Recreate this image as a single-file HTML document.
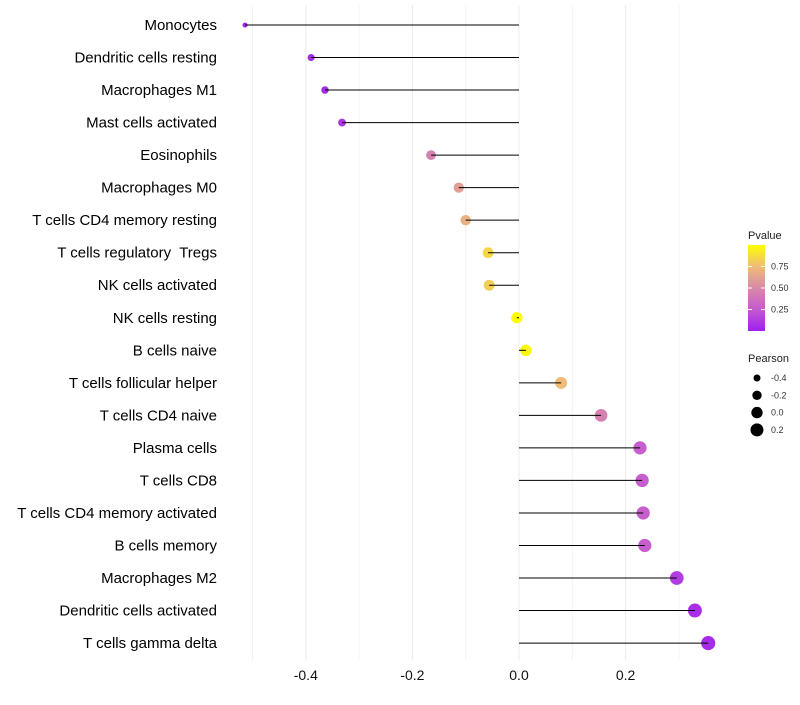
<!DOCTYPE html>
<html><head><meta charset="utf-8"><style>
body{margin:0;background:#fff;font-family:"Liberation Sans",sans-serif;}
svg text{font-family:"Liberation Sans",sans-serif;white-space:pre;}
</style></head><body>
<svg id="chart" width="800" height="700">
<defs><linearGradient id="pg" x1="0" y1="1" x2="0" y2="0">
<stop offset="0" stop-color="#a020f0"/><stop offset="0.25" stop-color="#c45ad0"/><stop offset="0.5" stop-color="#d98aa8"/><stop offset="0.75" stop-color="#eebb78"/><stop offset="1" stop-color="#ffff00"/></linearGradient></defs>
<g id="grid"></g><g id="dots"></g><g id="marks"></g><g id="labels"></g><g id="legend"></g>
</svg>
<script>
const categories=["Monocytes","Dendritic cells resting","Macrophages M1","Mast cells activated","Eosinophils","Macrophages M0","T cells CD4 memory resting","T cells regulatory  Tregs","NK cells activated","NK cells resting","B cells naive","T cells follicular helper","T cells CD4 naive","Plasma cells","T cells CD8","T cells CD4 memory activated","B cells memory","Macrophages M2","Dendritic cells activated","T cells gamma delta"];
const pearson=[-0.514,-0.39,-0.364,-0.332,-0.165,-0.113,-0.10,-0.058,-0.056,-0.004,0.013,0.079,0.154,0.227,0.231,0.233,0.236,0.296,0.330,0.355];
const pvalue=[0.03,0.05,0.05,0.1,0.45,0.6,0.7,0.85,0.82,0.99,0.97,0.75,0.45,0.27,0.27,0.27,0.27,0.12,0.06,0.05];
const xTicks=[-0.4,-0.2,0.0,0.2];
const minorTicks=[-0.5,-0.3,-0.1,0.1,0.3];
const pTicks=[0.25,0.5,0.75];
const sizeTicks=[-0.4,-0.2,0.0,0.2];
const NS="http://www.w3.org/2000/svg";
const x=v=>519+v*533;
const y=i=>25+i*32.53;
const r=v=>Math.sqrt(Math.max(4,32.25+50*v));
const stops=[[0,[160,32,240]],[0.25,[196,90,208]],[0.5,[217,138,168]],[0.75,[238,187,120]],[1,[255,255,0]]];
function col(p){for(let k=1;k<stops.length;k++){if(p<=stops[k][0]){const a=stops[k-1],b=stops[k];const t=(p-a[0])/(b[0]-a[0]);return "rgb("+a[1].map((c,j)=>Math.round(c+(b[1][j]-c)*t)).join(",")+")";}}return "rgb(255,255,0)";}
function el(t,a,parent){const e=document.createElementNS(NS,t);for(const k in a)e.setAttribute(k,a[k]);parent.appendChild(e);return e;}
const grid=document.getElementById('grid'),dots=document.getElementById('dots'),marks=document.getElementById('marks'),labels=document.getElementById('labels'),legend=document.getElementById('legend');
xTicks.forEach(v=>{
 const g=el('line',{x1:x(v),x2:x(v),y1:5,y2:660,stroke:'#ebebeb','stroke-width':1},grid);
 
 const t=el('text',{x:x(v),y:680,'font-size':14,'text-anchor':'middle',fill:'#111'},labels);t.textContent=v.toFixed(1);
 });
minorTicks.forEach(v=>{const m=el('line',{x1:x(v),x2:x(v),y1:5,y2:660,stroke:'#f2f2f2','stroke-width':1},grid);
 });
categories.forEach((c,i)=>{
 const d=el('circle',{cx:x(pearson[i]),cy:y(i),r:r(pearson[i]),fill:col(pvalue[i])},dots);
 
 const s=el('line',{x1:x(0),x2:x(pearson[i]),y1:y(i),y2:y(i),stroke:'#000','stroke-width':1},marks);
 
 const t=el('text',{x:217,y:y(i)+5,'font-size':15,'text-anchor':'end',fill:'#000'},labels);t.textContent=c;
 
});
let t=el('text',{x:748,y:239,'font-size':11,fill:'#222'},legend);t.textContent='Pvalue';

const bar=el('rect',{x:748,y:245,width:17,height:86,fill:'url(#pg)'},legend);

pTicks.forEach(p=>{const yy=331-p*86;
 const a=el('line',{x1:748,x2:752,y1:yy,y2:yy,stroke:'#fff','stroke-width':1},legend);
 const b=el('line',{x1:761,x2:765,y1:yy,y2:yy,stroke:'#fff','stroke-width':1},legend);
 const l=el('text',{x:771,y:yy+3,'font-size':9,fill:'#333'},legend);l.textContent=p.toFixed(2);
 });
t=el('text',{x:748,y:362,'font-size':11,fill:'#222'},legend);t.textContent='Pearson';

sizeTicks.forEach((v,k)=>{const yy=378+k*17.3;
 const c=el('circle',{cx:757,cy:yy,r:r(v),fill:'#000'},legend);
 const l=el('text',{x:771,y:yy+3,'font-size':9,fill:'#333'},legend);l.textContent=v.toFixed(1);
 });
</script>
</body></html>
